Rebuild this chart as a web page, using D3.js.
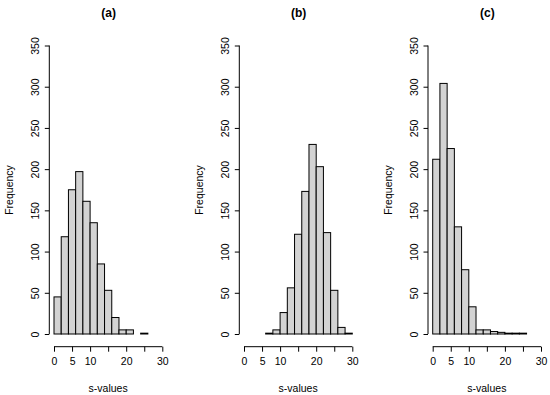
<!DOCTYPE html>
<html>
<head>
<meta charset="utf-8">
<script src="https://cdn.jsdelivr.net/npm/d3@7"></script>
<style>
  body { margin: 0; background: #fff; }
  text { font-family: "Liberation Sans", Arial, sans-serif; }
</style>
</head>
<body>
<div id="chart"></div>
<script>
// histogram bins, width 2
const titles = ["(a)", "(b)", "(c)"];
const binStartsA = [0, 2, 4, 6, 8, 10, 12, 14, 16, 18, 20, 22, 24];
const countsA = [45, 118, 175, 197, 161, 135, 85, 53, 20, 5, 5, 0, 1];
const binStartsB = [6, 8, 10, 12, 14, 16, 18, 20, 22, 24, 26, 28];
const countsB = [1, 5, 26, 56, 121, 173, 230, 203, 123, 53, 8, 1];
const binStartsC = [0, 2, 4, 6, 8, 10, 12, 14, 16, 18, 20, 22, 24];
const countsC = [212, 304, 225, 130, 78, 33, 5, 5, 3, 2, 1, 1, 1];
const xTicks = [0, 5, 10, 15, 20, 25, 30];
const xTickLabels = ["0", "5", "10", "", "20", "", "30"];
const yTicks = [0, 50, 100, 150, 200, 250, 300, 350];
const binWidth = 2;

const width = 550, height = 395;

const svg = d3.select("#chart").append("svg")
  .attr("width", width)
  .attr("height", height);

const panels = [
  { title: titles[0], starts: binStartsA, counts: countsA, x0: 54 },
  { title: titles[1], starts: binStartsB, counts: countsB, x0: 244 },
  { title: titles[2], starts: binStartsC, counts: countsC, x0: 432.7 },
];

const yScale = d3.scaleLinear().domain([0, 350]).range([334, 45.5]);

panels.forEach((p) => {
  const xScale = d3.scaleLinear().domain([0, 30]).range([p.x0, p.x0 + 108.3]);
  const g = svg.append("g");
  const bins = p.starts.map((s, i) => ({ x: s, n: p.counts[i] })).filter((d) => d.n > 0);

  g.selectAll("rect")
    .data(bins)
    .join("rect")
    .attr("x", (d) => xScale(d.x))
    .attr("y", (d) => yScale(d.n))
    .attr("width", (d) => xScale(d.x + binWidth) - xScale(d.x))
    .attr("height", (d) => yScale(0) - yScale(d.n))
    .attr("fill", "#d3d3d3")
    .attr("stroke", "#000")
    .attr("stroke-width", 1);

  // x axis
  const xAxis = g.append("g")
    .attr("transform", "translate(0,346.7)")
    .call(d3.axisBottom(xScale).tickValues(xTicks).tickSize(5).tickPadding(6)
      .tickFormat((d, i) => xTickLabels[i]));
  xAxis.select(".domain").attr("d", `M${xScale(0)},0H${xScale(30)}`);

  // y axis
  const yLeft = xScale(0) - 4.7;
  const yAxis = g.append("g")
    .attr("transform", `translate(${yLeft},0)`)
    .call(d3.axisLeft(yScale).tickValues(yTicks).tickSize(4.5).tickFormat(d3.format("d")));
  yAxis.select(".domain").attr("d", `M0,${yScale(0)}V${yScale(350)}`);
  yAxis.selectAll(".tick text")
    .attr("x", 0).attr("dy", 0)
    .attr("transform", "translate(-13,0) rotate(-90)")
    .attr("text-anchor", "middle")
    .attr("dominant-baseline", "middle");

  [xAxis, yAxis].forEach((a) => {
    a.selectAll("text").attr("font-size", 10.5).attr("fill", "#000")
      .style("font-family", "'Liberation Sans', Arial, sans-serif");
    a.selectAll("line, path").attr("stroke", "#000");
  });

  // labels
  g.append("text")
    .attr("x", xScale(15))
    .attr("y", 392)
    .attr("text-anchor", "middle")
    .attr("font-size", 10.5)
    .text("s-values");

  g.append("text")
    .attr("transform", `translate(${yLeft - 36},190) rotate(-90)`)
    .attr("text-anchor", "middle")
    .attr("font-size", 10.5)
    .text("Frequency");

  g.append("text")
    .attr("x", xScale(15) + 0.5)
    .attr("y", 17)
    .attr("text-anchor", "middle")
    .attr("font-size", 12)
    .attr("font-weight", "bold")
    .text(p.title);
});
</script>
</body>
</html>
